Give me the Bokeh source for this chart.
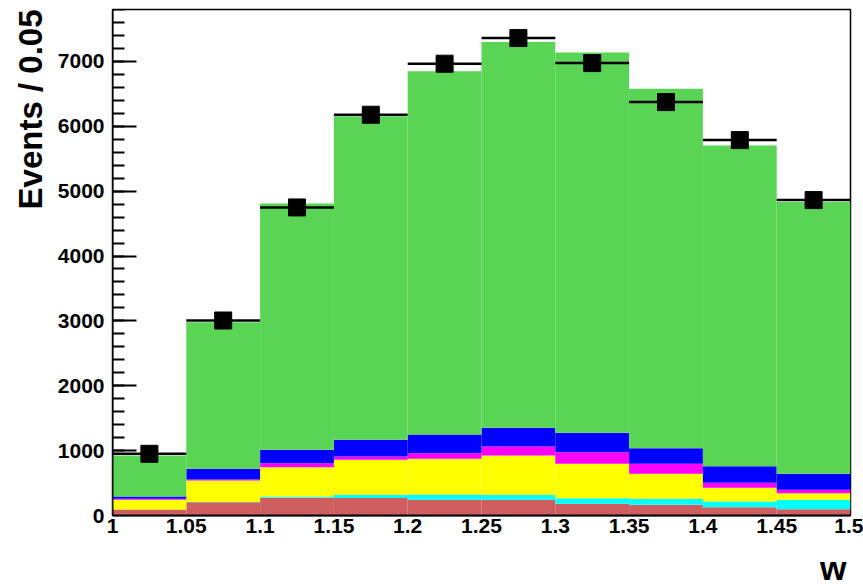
import numpy as np
from bokeh.plotting import figure
from bokeh.models import (ColumnDataSource, FixedTicker, SingleIntervalTicker,
                          Title, Range1d, Span, LinearAxis)
from bokeh.embed import file_html
from bokeh.resources import INLINE

# Bin edges in w (bin width 0.05)
bin_edges = [1.0, 1.05, 1.1, 1.15, 1.2, 1.25, 1.3, 1.35, 1.4, 1.45, 1.5]

# Stacked contributions per bin (events / 0.05), bottom to top
bkg_red = [92, 205, 273, 270, 242, 242, 180, 165, 128, 97]
bkg_cyan = [0, 5, 20, 49, 82, 77, 87, 92, 88, 145]
bkg_yellow = [150, 330, 452, 539, 550, 606, 530, 386, 211, 102]
bkg_magenta = [15, 15, 62, 52, 87, 139, 179, 154, 77, 52]
bkg_blue = [36, 165, 206, 257, 288, 288, 299, 241, 256, 247]
signal_green = [632, 2260, 3797, 4989, 5601, 5946, 5863, 5540, 4945, 4188]

# Measured data counts per bin
data_counts = [951, 3006, 4749, 6178, 6964, 7360, 6974, 6373, 5787, 4862]

x_ticks = [1.0, 1.05, 1.1, 1.15, 1.2, 1.25, 1.3, 1.35, 1.4, 1.45, 1.5]
x_tick_labels = ["1", "1.05", "1.1", "1.15", "1.2", "1.25", "1.3", "1.35",
                 "1.4", "1.45", "1.5"]

components = [
    (bkg_red, "#CF5E60"),
    (bkg_cyan, "#00FFFF"),
    (bkg_yellow, "#FFFF00"),
    (bkg_magenta, "#FF00FF"),
    (bkg_blue, "#0000FF"),
    (signal_green, "#59D454"),
]

FONT = "Liberation Sans"

p = figure(frame_width=738, frame_height=506, output_backend="svg",
           toolbar_location=None,
           x_range=Range1d(1.0, 1.5), y_range=Range1d(0, 7800),
           min_border_left=112, min_border_right=13, min_border_top=9,
           min_border_bottom=72)
p.grid.visible = False
p.outline_line_color = "black"
p.outline_line_width = 1.5
p.background_fill_color = "white"
p.border_fill_color = "white"

edges = np.array(bin_edges)
left = edges[:-1]
right = edges[1:]
bottom = np.zeros(len(left))
for vals, color in components:
    top = bottom + np.array(vals, dtype=float)
    src = ColumnDataSource(dict(left=left, right=right, bottom=bottom, top=top))
    p.quad(left="left", right="right", bottom="bottom", top="top", source=src,
           fill_color=color, line_color=None)
    bottom = top

# Data points with statistical errors
counts = np.array(data_counts, dtype=float)
centers = 0.5 * (left + right)
err = np.sqrt(counts)
dsrc = ColumnDataSource(dict(x=centers, y=counts, x0=left, x1=right,
                             ylo=counts - err, yhi=counts + err))
p.segment(x0="x0", y0="y", x1="x1", y1="y", source=dsrc,
          line_color="black", line_width=2.5)
p.segment(x0="x", y0="ylo", x1="x", y1="yhi", source=dsrc,
          line_color="black", line_width=2.5)
p.scatter(x="x", y="y", source=dsrc, marker="square", size=17,
          fill_color="black", line_color="black")

# x axis
xa = p.xaxis[0]
xa.ticker = FixedTicker(ticks=x_ticks)
xa.major_label_overrides = {t: l for t, l in zip(x_ticks, x_tick_labels)}
xa.major_tick_in = 0
xa.major_tick_out = 0
xa.minor_tick_in = 0
xa.minor_tick_out = 0
xa.axis_line_width = 2
xa.major_label_standoff = 3
xa.major_label_text_font = FONT
xa.major_label_text_font_style = "bold"
xa.major_label_text_font_size = "21px"
xa.major_label_text_color = "black"

# y axis, part 1: inward ticks only, painted beneath the histogram fills
y_ticker = SingleIntervalTicker(interval=1000, num_minor_ticks=5)
ya = p.yaxis[0]
ya.ticker = y_ticker
ya.major_tick_in = 24
ya.major_tick_out = 0
ya.minor_tick_in = 12
ya.minor_tick_out = 0
ya.major_tick_line_width = 2
ya.minor_tick_line_width = 2
ya.axis_line_color = None
ya.major_label_standoff = 0
ya.major_label_text_font_size = "1px"
ya.major_label_text_alpha = 0
ya.level = "underlay"

# y axis, part 2: the labels
yl = LinearAxis(ticker=y_ticker, major_tick_in=0, major_tick_out=0,
                minor_tick_in=0, minor_tick_out=0, axis_line_color=None,
                major_label_standoff=8, major_label_text_font=FONT,
                major_label_text_font_style="bold",
                major_label_text_font_size="21px",
                major_label_text_color="black")
p.add_layout(yl, "left")

# Left frame edge drawn above the fills
p.add_layout(Span(location=1.0, dimension="height", line_color="black",
                  line_width=2, level="overlay"))

p.add_layout(Title(text="Events / 0.05", align="right", text_font=FONT,
                   text_font_style="bold", text_font_size="33px",
                   text_color="black", standoff=12), "left")
p.add_layout(Title(text="w", align="right", text_font=FONT,
                   text_font_style="bold", text_font_size="34px",
                   text_color="black", standoff=22, offset=4), "below")

open("out.html", "w").write(file_html(p, INLINE))
